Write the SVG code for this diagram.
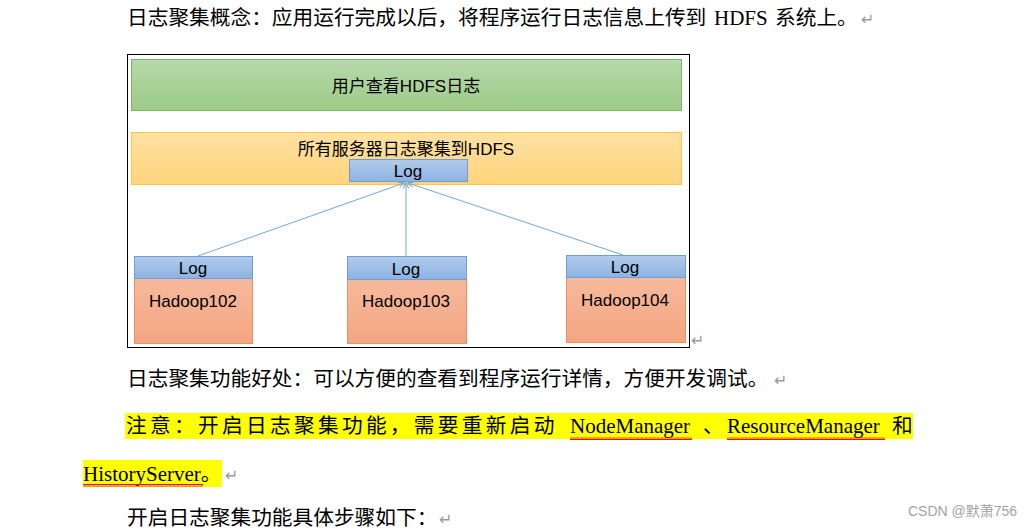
<svg xmlns="http://www.w3.org/2000/svg" width="1036" height="528" viewBox="0 0 1036 528">
<defs>
<linearGradient id="gGreen" x1="0" y1="0" x2="0" y2="1"><stop offset="0" stop-color="#b8d9ab"/><stop offset="1" stop-color="#9cca88"/></linearGradient>
<linearGradient id="gOrange" x1="0" y1="0" x2="0" y2="1"><stop offset="0" stop-color="#ffe1a3"/><stop offset="1" stop-color="#fed47c"/></linearGradient>
<linearGradient id="gBlue" x1="0" y1="0" x2="0" y2="1"><stop offset="0" stop-color="#b1cbeb"/><stop offset="1" stop-color="#8db3e2"/></linearGradient>
<linearGradient id="gSalmon" x1="0" y1="0" x2="0" y2="1"><stop offset="0" stop-color="#f6b99c"/><stop offset="1" stop-color="#f4a582"/></linearGradient>
<marker id="arr" viewBox="0 0 10 10" refX="9" refY="5" markerWidth="7" markerHeight="7" orient="auto" markerUnits="userSpaceOnUse">
<path d="M1,1 L9,5 L1,9" fill="none" stroke="#6fa8dc" stroke-width="1.5"/>
</marker>
<pattern id="wave" width="4" height="3" patternUnits="userSpaceOnUse">
<path d="M0,2.5 L1,0.5 L2,2.5 L3,0.5 L4,2.5" fill="none" stroke="#e81123" stroke-width="1"/>
</pattern>
<style>
.body{font-family:"Liberation Serif","Noto Sans CJK SC",serif;font-size:20.7px;fill:#000}
.lat{font-family:"Liberation Serif",serif;font-size:21px}
.ret{font-family:"DejaVu Sans",sans-serif;font-size:16px;fill:#9a9a9a}
.dt{font-family:"Liberation Sans","Noto Sans CJK SC",sans-serif;font-size:17px;fill:#000;text-anchor:middle}
.log{fill:url(#gBlue);stroke:#6d9eda;stroke-width:1}
.hd{fill:url(#gSalmon);stroke:#ef9060;stroke-width:1}
.conn{stroke:#6fa8dc;stroke-width:1;fill:none;marker-end:url(#arr)}
</style>
</defs>
<rect width="1036" height="528" fill="#fff"/>

<!-- document text -->
<text class="body" x="127" y="25">日志聚集概念：应用运行完成以后，将程序运行日志信息上传到<tspan class="lat" x="714">HDFS</tspan><tspan x="775">系统上。</tspan></text>
<text class="ret" x="861" y="25">↵</text>

<text class="body" x="127" y="386">日志聚集功能好处：可以方便的查看到程序运行详情，方便开发调试。</text>
<text class="ret" x="774" y="386">↵</text>

<rect x="125" y="413" width="788" height="26" fill="#ffff00"/>
<rect x="83" y="460" width="139" height="27" fill="#ffff00"/>
<text class="body" x="126" y="433" letter-spacing="3.3">注意：开启日志聚集功能，需要重新启动</text>
<text class="body lat" x="570" y="433">NodeManager</text>
<text class="body" x="703" y="433">、</text>
<text class="body lat" x="727" y="433">ResourceManager</text>
<text class="body" x="892" y="433">和</text>
<rect x="570" y="437" width="122" height="3" fill="url(#wave)"/>
<rect x="727" y="437" width="158" height="3" fill="url(#wave)"/>
<text class="body" x="83" y="481"><tspan class="lat">HistoryServer</tspan>。</text>
<rect x="83" y="484" width="120" height="3" fill="url(#wave)"/>
<text class="ret" x="225" y="481">↵</text>

<text class="body" x="127" y="525">开启日志聚集功能具体步骤如下：</text>
<text class="ret" x="439" y="525">↵</text>

<text x="908" y="516" style="font-family:'Liberation Sans','Noto Sans CJK SC',sans-serif;font-size:14px;fill:#a3a3a3">CSDN @默萧756</text>

<!-- diagram -->
<rect x="127.5" y="54.5" width="562" height="293" fill="#fff" stroke="#000" stroke-width="1"/>
<text class="ret" x="691" y="346">↵</text>

<g id="user-view">
<rect x="131.5" y="59.5" width="550" height="51" fill="url(#gGreen)" stroke="#7cb862"/>
<text class="dt" x="406" y="92">用户查看HDFS日志</text>
</g>

<g id="hdfs-aggregate">
<rect x="131.5" y="132.5" width="550" height="52" fill="url(#gOrange)" stroke="#f7c745"/>
<text class="dt" x="406" y="155">所有服务器日志聚集到HDFS</text>
</g>

<g id="hdfs-log">
<rect class="log" x="349.5" y="159.5" width="118" height="22"/>
<text class="dt" x="408" y="177">Log</text>
</g>

<g id="connectors">
<line class="conn" x1="198" y1="256" x2="404" y2="183"/>
<line class="conn" x1="406" y1="256" x2="406" y2="183"/>
<line class="conn" x1="623" y1="255" x2="408" y2="183"/>
</g>

<g id="hadoop102">
<rect class="hd" x="134.5" y="278.5" width="118" height="65"/>
<rect class="log" x="134.5" y="256.5" width="118" height="22"/>
<text class="dt" x="193" y="274">Log</text>
<text class="dt" x="193" y="307">Hadoop102</text>
</g>

<g id="hadoop103">
<rect class="hd" x="347.5" y="279.5" width="119" height="64"/>
<rect class="log" x="347.5" y="256.5" width="119" height="23"/>
<text class="dt" x="406" y="275">Log</text>
<text class="dt" x="406" y="307">Hadoop103</text>
</g>

<g id="hadoop104">
<rect class="hd" x="566.5" y="277.5" width="119" height="65"/>
<rect class="log" x="566.5" y="255.5" width="119" height="22"/>
<text class="dt" x="625" y="273">Log</text>
<text class="dt" x="625" y="306">Hadoop104</text>
</g>
</svg>
